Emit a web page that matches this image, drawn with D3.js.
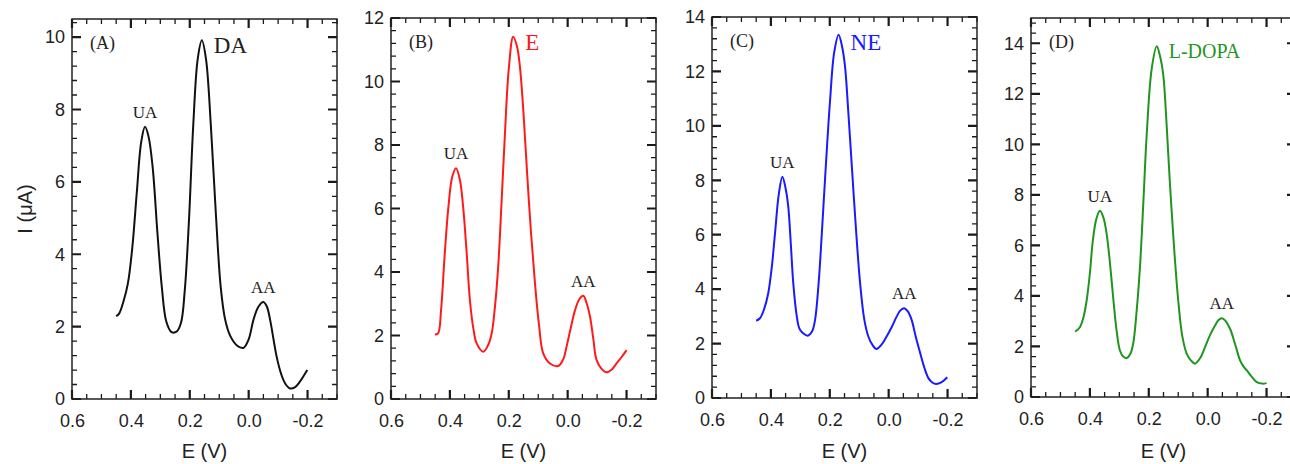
<!DOCTYPE html>
<html>
<head>
<meta charset="utf-8">
<script src="https://cdn.jsdelivr.net/npm/d3@7/dist/d3.min.js"></script>
<style>
  body { margin: 0; background: #fff; }
  svg { display: block; }
  .axis text { font-family: "Liberation Sans", Arial, sans-serif; font-size: 18px; fill: #222; }
  .serif { font-family: "Liberation Serif", "Times New Roman", serif; fill: #222; }
  .title { font-family: "Liberation Sans", Arial, sans-serif; font-size: 20px; fill: #222; }
</style>
</head>
<body>
<svg width="1290" height="464"></svg>
<script>
// panel tags, analyte names, colours
var panelTags = ["(A)", "(B)", "(C)", "(D)"];
var analytes = ["DA", "E", "NE", "L-DOPA"];
var colors = ["#111111", "#ff1a1a", "#1a1aff", "#1f951f"];
var yMax = [10.5, 12, 14, 15];
var yTickVals = [[0, 2, 4, 6, 8, 10], [0, 2, 4, 6, 8, 10, 12], [0, 2, 4, 6, 8, 10, 12, 14], [0, 2, 4, 6, 8, 10, 12, 14]];
var xTickVals = [0.6, 0.4, 0.2, 0.0, -0.2];

// (A) DA
var eDA = [0.450, 0.440, 0.425, 0.410, 0.395, 0.380, 0.365, 0.352, 0.340, 0.326, 0.310, 0.295, 0.280, 0.262, 0.245, 0.230, 0.217, 0.203, 0.188, 0.173, 0.159, 0.145, 0.128, 0.112, 0.095, 0.080, 0.063, 0.040, 0.018, 0.000, -0.016, -0.033, -0.050, -0.062, -0.073, -0.095, -0.110, -0.124, -0.141, -0.158, -0.174, -0.199];
var iDA = [2.29, 2.36, 2.70, 3.20, 4.20, 5.70, 7.10, 7.52, 7.25, 6.40, 4.60, 3.10, 2.15, 1.85, 1.86, 2.10, 3.00, 4.90, 7.60, 9.40, 9.91, 9.40, 7.50, 5.20, 3.10, 2.20, 1.75, 1.48, 1.41, 1.65, 2.18, 2.55, 2.68, 2.55, 2.18, 1.17, 0.70, 0.43, 0.29, 0.33, 0.48, 0.80];
// (B) E
var eE = [0.451, 0.440, 0.430, 0.418, 0.405, 0.392, 0.379, 0.366, 0.355, 0.343, 0.332, 0.320, 0.309, 0.287, 0.270, 0.258, 0.247, 0.236, 0.225, 0.213, 0.200, 0.185, 0.172, 0.162, 0.150, 0.139, 0.125, 0.111, 0.097, 0.083, 0.060, 0.032, 0.015, 0.004, -0.012, -0.025, -0.040, -0.053, -0.065, -0.076, -0.087, -0.098, -0.115, -0.132, -0.150, -0.166, -0.184, -0.200];
var iE = [2.03, 2.07, 2.80, 4.50, 6.05, 7.00, 7.27, 6.90, 6.05, 4.60, 3.11, 2.20, 1.75, 1.49, 1.70, 2.07, 2.90, 4.16, 6.10, 8.36, 10.40, 11.41, 11.10, 10.45, 9.00, 7.31, 5.30, 3.64, 2.30, 1.44, 1.12, 1.04, 1.25, 1.64, 2.30, 2.80, 3.15, 3.25, 3.00, 2.59, 1.90, 1.23, 0.95, 0.84, 0.93, 1.12, 1.33, 1.54];
// (C) NE
var eNE = [0.450, 0.437, 0.422, 0.409, 0.397, 0.386, 0.373, 0.361, 0.350, 0.341, 0.332, 0.324, 0.312, 0.301, 0.275, 0.260, 0.250, 0.238, 0.227, 0.213, 0.199, 0.185, 0.170, 0.158, 0.148, 0.137, 0.125, 0.111, 0.097, 0.083, 0.069, 0.055, 0.041, 0.025, 0.007, -0.010, -0.027, -0.040, -0.053, -0.065, -0.078, -0.092, -0.107, -0.121, -0.135, -0.148, -0.161, -0.180, -0.199];
var iNE = [2.84, 2.93, 3.30, 3.85, 4.80, 6.05, 7.50, 8.13, 7.70, 7.03, 5.60, 4.22, 3.00, 2.51, 2.29, 2.45, 2.87, 4.20, 6.05, 8.60, 10.94, 12.70, 13.35, 12.90, 12.16, 10.50, 8.50, 6.20, 4.22, 2.90, 2.26, 1.95, 1.80, 1.95, 2.26, 2.60, 2.99, 3.22, 3.30, 3.18, 2.87, 2.25, 1.65, 1.12, 0.73, 0.57, 0.51, 0.58, 0.76];
// (D) L-DOPA
var eLD = [0.450, 0.434, 0.422, 0.411, 0.400, 0.390, 0.378, 0.366, 0.354, 0.343, 0.331, 0.320, 0.309, 0.298, 0.287, 0.275, 0.263, 0.253, 0.242, 0.230, 0.218, 0.207, 0.190, 0.173, 0.162, 0.151, 0.140, 0.128, 0.114, 0.100, 0.086, 0.071, 0.057, 0.043, 0.025, 0.009, -0.008, -0.025, -0.037, -0.048, -0.060, -0.076, -0.093, -0.110, -0.122, -0.133, -0.150, -0.167, -0.185, -0.200];
var iLD = [2.59, 2.76, 3.15, 3.82, 4.90, 6.19, 7.05, 7.37, 7.10, 6.45, 5.20, 3.82, 2.60, 1.84, 1.60, 1.54, 1.70, 2.11, 3.30, 5.13, 7.80, 10.40, 13.00, 13.88, 13.50, 12.77, 10.90, 8.42, 5.90, 3.82, 2.40, 1.71, 1.45, 1.32, 1.55, 1.97, 2.45, 2.83, 3.05, 3.12, 3.02, 2.70, 2.10, 1.45, 1.20, 1.05, 0.80, 0.59, 0.53, 0.55];

var potentials = [eDA, eE, eNE, eLD];
var currents = [iDA, iE, iNE, iLD];

// frame of each panel in pixels
var frames = [
  {left: 72, top: 19, bottom: 399, nameDy: 34},
  {left: 391, top: 18, bottom: 399, nameDy: 32},
  {left: 712, top: 17, bottom: 398, nameDy: 33},
  {left: 1031, top: 18, bottom: 397, nameDy: 40}
];
var plotW = 265;

var svg = d3.select("svg");
var fmtX = function (d) { return d.toFixed(1); };

frames.forEach(function (f, p) {
  var h = f.bottom - f.top;
  var g = svg.append("g").attr("transform", "translate(" + f.left + "," + f.top + ")");

  var x = d3.scaleLinear().domain([0.6, -0.3]).range([0, plotW]);
  var y = d3.scaleLinear().domain([0, yMax[p]]).range([h, 0]);

  var xMinor = d3.range(0, 19).map(function (i) { return +(0.6 - i * 0.05).toFixed(2); })
    .filter(function (v) { return xTickVals.indexOf(v) < 0; });
  var yMinor = d3.range(0, Math.floor(yMax[p] / 0.4 + 1e-6) + 1).map(function (i) { return +(i * 0.4).toFixed(1); })
    .filter(function (v) { return yTickVals[p].indexOf(v) < 0; });

  // tick labels
  g.append("g").attr("class", "axis").attr("transform", "translate(0," + h + ")")
    .call(d3.axisBottom(x).tickValues(xTickVals).tickFormat(fmtX).tickSize(0).tickPadding(15))
    .call(function (a) { a.select(".domain").remove(); });
  g.append("g").attr("class", "axis")
    .call(d3.axisLeft(y).tickValues(yTickVals[p]).tickFormat(d3.format("d")).tickSize(0).tickPadding(7))
    .call(function (a) { a.select(".domain").remove(); });
  g.selectAll(".axis .tick text").attr("fill", "#222");

  // inward ticks on all four sides
  function tickPath(vals, len, w) {
    var dStr = "";
    vals.forEach(function (v) {
      var px = x(v);
      dStr += "M" + px + "," + h + "V" + (h - len) + "M" + px + ",0V" + len;
    });
    g.append("path").attr("d", dStr).attr("fill", "none")
      .attr("stroke", "#1a1a1a").attr("stroke-width", w);
  }
  function tickPathY(vals, len, w) {
    var dStr = "";
    vals.forEach(function (v) {
      var py = y(v);
      dStr += "M0," + py + "H" + len + "M" + plotW + "," + py + "H" + (plotW - len);
    });
    g.append("path").attr("d", dStr).attr("fill", "none")
      .attr("stroke", "#1a1a1a").attr("stroke-width", w);
  }
  tickPath(xTickVals, 9, 2.2);
  tickPath(xMinor, 5, 1.3);
  tickPathY(yTickVals[p], 9, 2.2);
  tickPathY(yMinor, 5, 1.3);

  g.append("rect")
    .attr("width", plotW).attr("height", h)
    .attr("fill", "none").attr("stroke", "#222").attr("stroke-width", 1.5);

  var pts = potentials[p].map(function (e, i) { return [e, currents[p][i]]; });

  var line = d3.line()
    .x(function (d) { return x(d[0]); })
    .y(function (d) { return y(d[1]); })
    .curve(d3.curveCatmullRom.alpha(0.5));

  g.append("path").datum(pts)
    .attr("fill", "none")
    .attr("stroke", colors[p])
    .attr("stroke-width", 2)
    .attr("d", line);

  // peak labels
  var ua = d3.greatest(pts.filter(function (d) { return d[0] > 0.3; }), function (d) { return d[1]; });
  var aa = d3.greatest(pts.filter(function (d) { return d[0] < 0; }), function (d) { return d[1]; });
  var main = d3.greatest(pts, function (d) { return d[1]; });

  [["UA", ua], ["AA", aa]].forEach(function (l) {
    g.append("text").attr("class", "serif")
      .attr("x", x(l[1][0])).attr("y", y(l[1][1]) - 9)
      .attr("text-anchor", "middle").style("font-size", "17px")
      .text(l[0]);
  });

  g.append("text").attr("class", "serif")
    .attr("x", 18).attr("y", 30).style("font-size", "18px")
    .text(panelTags[p]);

  g.append("text").attr("class", "serif")
    .attr("x", x(main[0]) + 12).attr("y", f.nameDy)
    .style("font-size", p === 3 ? "20px" : "23px")
    .style("fill", p === 0 ? "#222" : colors[p])
    .text(analytes[p]);

  g.append("text").attr("class", "title")
    .attr("x", plotW / 2).attr("y", 458 - f.top)
    .attr("text-anchor", "middle")
    .text("E (V)");

  if (p === 0) {
    g.append("text").attr("class", "title")
      .attr("transform", "translate(" + (32 - f.left) + "," + (h / 2) + ") rotate(-90)")
      .attr("text-anchor", "middle")
      .text("I (μA)");
  }
});
</script>
</body>
</html>
